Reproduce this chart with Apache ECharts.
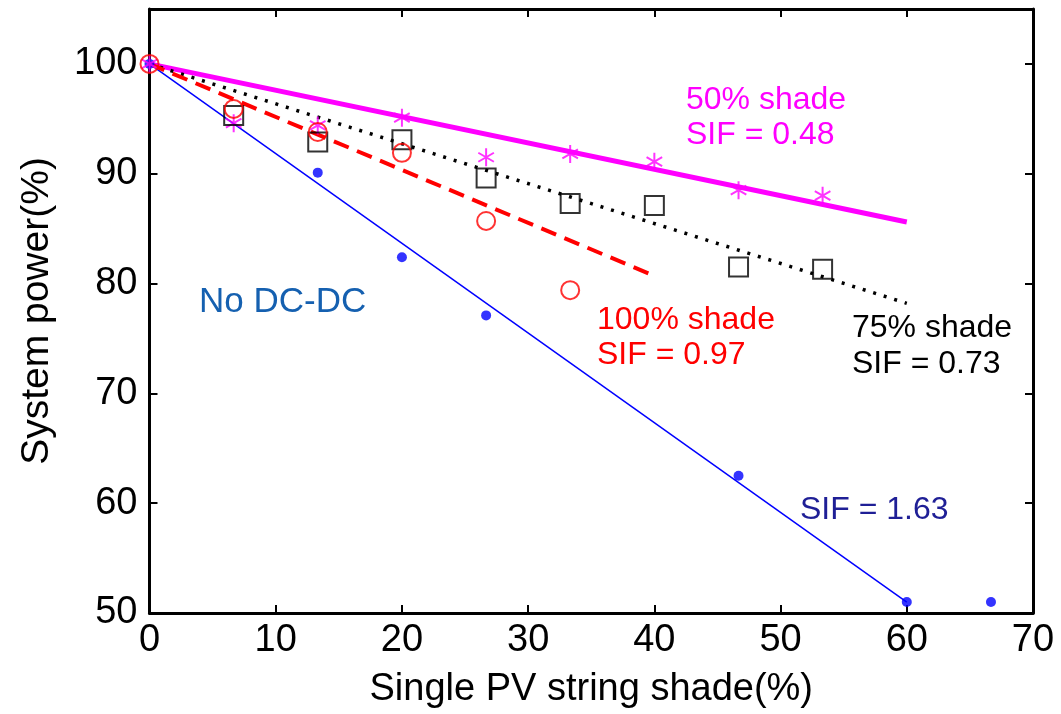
<!DOCTYPE html>
<html><head><meta charset="utf-8">
<script src="https://cdn.jsdelivr.net/npm/echarts@6/dist/echarts.min.js"></script>
<style>html,body{margin:0;padding:0;background:#fff}#c{width:1061px;height:714px}</style>
</head><body><div id="c"></div>
<script>
// Measured points
const noDcX = [0, 13.33, 20, 26.67, 46.67, 60, 66.67];
const noDcY = [100, 90.1, 82.4, 77.1, 62.5, 51.0, 51.0];
const shade50X = [0, 6.67, 13.33, 20, 26.67, 33.33, 40, 46.67, 53.33];
const shade50Y = [100, 94.6, 94.4, 95.1, 91.5, 91.8, 91.1, 88.5, 88.0];
const shade75X = [6.67, 13.33, 20, 26.67, 33.33, 40, 46.67, 53.33];
const shade75Y = [95.3, 92.9, 93.1, 89.6, 87.3, 87.1, 81.5, 81.3];
const shade100X = [0, 6.67, 13.33, 20, 26.67, 33.33];
const shade100Y = [100, 95.9, 93.8, 91.9, 85.7, 79.4];
// Fitted lines (endpoints)
const fitNoDcX = [0, 60], fitNoDcY = [100, 51.0];
const fit50X = [0, 60], fit50Y = [100, 85.6];
const fit75X = [0, 60], fit75Y = [100, 78.2];
const fit100X = [0, 40], fit100Y = [100, 80.7];
// Axis ticks
const xTicks = [0, 10, 20, 30, 40, 50, 60, 70];
const yTicks = [50, 60, 70, 80, 90, 100];
// Annotations
const notes = [
  {text: '50% shade', color: '#ff00ff', x: 686, y: 101, size: 32},
  {text: 'SIF = 0.48', color: '#ff00ff', x: 686, y: 136, size: 32},
  {text: 'No DC-DC', color: '#1560b0', x: 199, y: 303, size: 35},
  {text: '100% shade', color: '#ff0000', x: 597, y: 321, size: 32},
  {text: 'SIF = 0.97', color: '#ff0000', x: 597, y: 356, size: 32},
  {text: '75% shade', color: '#000000', x: 852, y: 329, size: 32},
  {text: 'SIF = 0.73', color: '#000000', x: 852, y: 365, size: 32},
  {text: 'SIF = 1.63', color: '#1f1f96', x: 800, y: 511, size: 32}
];

const zip = (a, b) => a.map((v, i) => [v, b[i]]);
const FONT = 'Liberation Sans, Arial, sans-serif';
const star = 'path://M0,-10L0,10M-8.66,-5L8.66,5M-8.66,5L8.66,-5';

const chart = echarts.init(document.getElementById('c'), null, {renderer: 'canvas'});
const axisCommon = {
  axisLine: {show: true, onZero: false, lineStyle: {color: '#000', width: 3}},
  splitLine: {show: false}
};
chart.setOption({
  animation: false,
  backgroundColor: '#fff',
  grid: {left: 149.5, right: 28, top: 9, bottom: 101, containLabel: false},
  xAxis: [
    Object.assign({}, axisCommon, {
      type: 'value', min: 0, max: 70, interval: 10, position: 'bottom',
      name: 'Single PV string shade(%)', nameLocation: 'middle', nameGap: 58,
      nameTextStyle: {fontFamily: FONT, fontSize: 38, color: '#000'},
      axisTick: {show: true, inside: true, length: 8, lineStyle: {color: '#000', width: 2}, customValues: xTicks},
      axisLabel: {fontFamily: FONT, fontSize: 38, color: '#000', margin: 9, customValues: xTicks}
    }),
    Object.assign({}, axisCommon, {
      type: 'value', min: 0, max: 70, interval: 10, position: 'top',
      axisTick: {show: true, inside: true, length: 8, lineStyle: {color: '#000', width: 2}, customValues: xTicks},
      axisLabel: {show: false}
    })
  ],
  yAxis: [
    Object.assign({}, axisCommon, {
      type: 'value', min: 50, max: 105, interval: 10, position: 'left',
      name: 'System power(%)', nameLocation: 'middle', nameGap: 93, nameRotate: 90,
      nameTextStyle: {fontFamily: FONT, fontSize: 39, color: '#000'},
      axisTick: {show: true, inside: true, length: 8, lineStyle: {color: '#000', width: 2}, customValues: yTicks},
      axisLabel: {fontFamily: FONT, fontSize: 38, color: '#000', margin: 12, customValues: yTicks}
    }),
    Object.assign({}, axisCommon, {
      type: 'value', min: 50, max: 105, interval: 10, position: 'right',
      axisTick: {show: true, inside: true, length: 8, lineStyle: {color: '#000', width: 2}, customValues: yTicks},
      axisLabel: {show: false}
    })
  ],
  series: [
    {type: 'line', data: zip(fitNoDcX, fitNoDcY), symbol: 'none', lineStyle: {color: '#0000ff', width: 1.5}, z: 2},
    {type: 'line', data: zip(fit50X, fit50Y), symbol: 'none', lineStyle: {color: '#ff00ff', width: 5}, z: 2},
    {type: 'line', data: zip(fit75X, fit75Y), symbol: 'none', lineStyle: {color: '#000', width: 3.5, type: [3, 8]}, z: 2},
    {type: 'line', data: zip(fit100X, fit100Y), symbol: 'none', lineStyle: {color: '#ff0000', width: 4, type: [16, 9]}, z: 2},
    {type: 'scatter', data: zip(noDcX, noDcY), symbol: 'circle', symbolSize: 10, itemStyle: {color: '#0000ff'}, z: 3},
    {type: 'scatter', data: zip(shade50X, shade50Y), symbol: star, symbolSize: 18, symbolKeepAspect: true,
      itemStyle: {color: 'rgba(0,0,0,0)', borderColor: '#ff00ff', borderWidth: 2}, z: 3},
    {type: 'scatter', data: zip(shade75X, shade75Y), symbol: 'rect', symbolSize: 19,
      itemStyle: {color: 'rgba(0,0,0,0)', borderColor: '#000', borderWidth: 2}, z: 3},
    {type: 'scatter', data: zip(shade100X, shade100Y), symbol: 'circle', symbolSize: 18,
      itemStyle: {color: 'rgba(0,0,0,0)', borderColor: '#ff0000', borderWidth: 2}, z: 3}
  ],
  graphic: notes.map(n => ({
    type: 'text', left: n.x, top: n.y - n.size / 2 - 1,
    style: {text: n.text, fill: n.color, font: n.size + 'px ' + FONT, textVerticalAlign: 'top'}
  }))
});
</script></body></html>
